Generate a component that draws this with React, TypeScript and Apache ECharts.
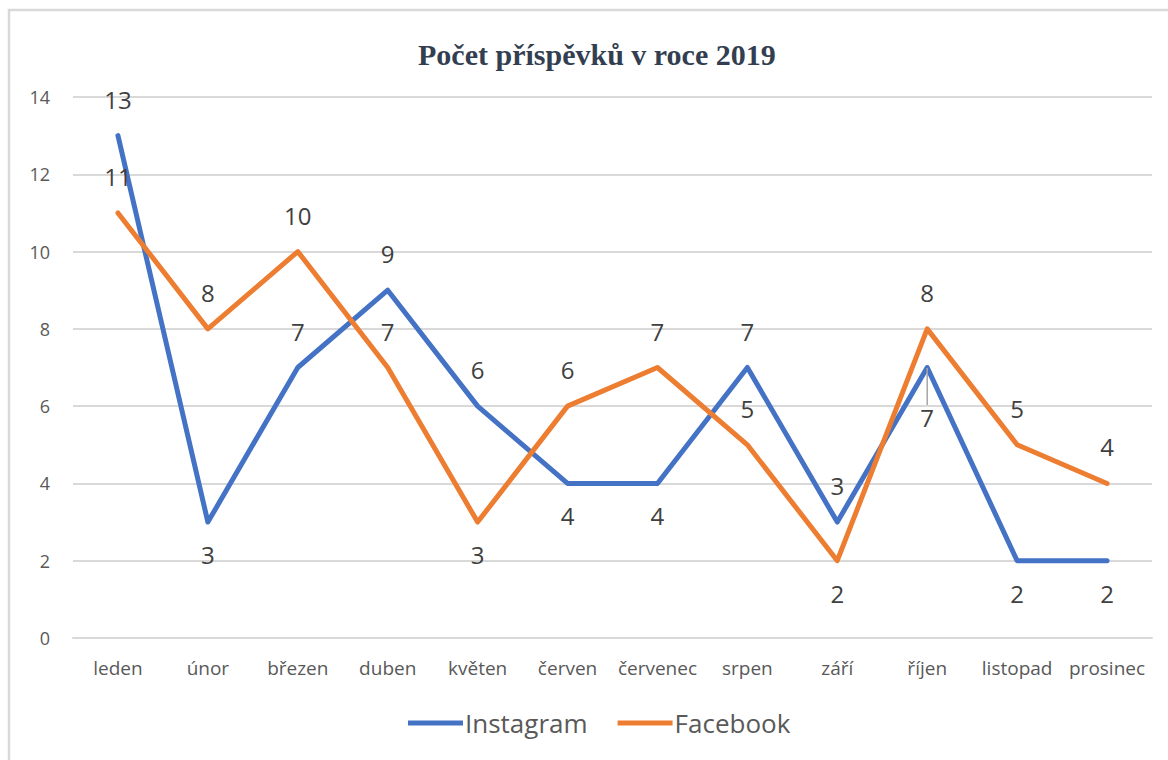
import React, { useEffect, useRef } from "react";
import * as echarts from "echarts";

const categories = ["leden", "únor", "březen", "duben", "květen", "červen", "červenec", "srpen", "září", "říjen", "listopad", "prosinec"];
const instagram = [13, 3, 7, 9, 6, 4, 4, 7, 3, 7, 2, 2];
const facebook = [11, 8, 10, 7, 3, 6, 7, 5, 2, 8, 5, 4];
const instagramLabelPos = ["top", "bottom", "top", "top", "top", "bottom", "bottom", "top", "top", "bottom", "bottom", "bottom"];
const facebookLabelPos = ["top", "top", "top", "top", "bottom", "top", "top", "top", "bottom", "top", "top", "top"];
const yTicks = { min: 0, max: 14, interval: 2 };

const labelColor = "#404040";
const axisTextColor = "#595959";
const gridColor = "#D9D9D9";

export default function App() {
  const ref = useRef<HTMLDivElement>(null);
  useEffect(() => {
    if (!ref.current) return;
    const chart = echarts.init(ref.current, undefined, { renderer: "svg" });
    const mk = (vals: number[], pos: string[], leaderIdx: number) =>
      vals.map((v, i) => {
        const item: any = { value: v, label: { position: pos[i], distance: pos[i] === "top" ? 24 : 20 } };
        if (i === leaderIdx) {
          item.labelLine = { show: true, lineStyle: { color: "#A6A6A6", width: 1.5 } };
        }
        return item;
      });
    chart.setOption({
      animation: false,
      backgroundColor: "#ffffff",
      title: {
        text: "Počet příspěvků v roce 2019",
        left: 413,
        top: 34,
        textStyle: {
          fontFamily: "Liberation Serif",
          fontWeight: "bold",
          fontSize: 30,
          color: "#333F50",
        },
      },
      graphic: [
        {
          type: "rect",
          shape: { x: 9, y: 10, width: 1200, height: 800 },
          style: { fill: "none", stroke: gridColor, lineWidth: 2.5 },
          silent: true,
          z: -1,
        },
      ],
      grid: { left: 73, right: 16, top: 97, bottom: 122, containLabel: false },
      legend: {
        bottom: 19,
        left: 403,
        icon: "rect",
        itemWidth: 55,
        itemHeight: 5,
        itemGap: 30,
        textStyle: { fontFamily: "Open Sans", fontSize: 26, color: axisTextColor, padding: [0, 0, 0, -3] },
        data: ["Instagram", "Facebook"],
      },
      xAxis: {
        type: "category",
        data: categories,
        boundaryGap: true,
        axisLine: { show: true, lineStyle: { color: gridColor, width: 2 } },
        axisTick: { show: false },
        axisLabel: { color: axisTextColor, fontFamily: "Open Sans", fontSize: 19, margin: 20, interval: 0 },
      },
      yAxis: {
        type: "value",
        min: yTicks.min,
        max: yTicks.max,
        interval: yTicks.interval,
        axisLine: { show: false },
        axisTick: { show: false },
        splitLine: { lineStyle: { color: gridColor, width: 2 } },
        axisLabel: { color: axisTextColor, fontFamily: "Open Sans", fontSize: 18, margin: 23 },
      },
      series: [
        {
          name: "Instagram",
          type: "line",
          data: mk(instagram, instagramLabelPos, 9),
          symbol: "circle",
          symbolSize: 1,
          showSymbol: true,
          itemStyle: { color: "#4472C4" },
          lineStyle: { color: "#4472C4", width: 5, cap: "round", join: "round" },
          label: { show: true, fontFamily: "Open Sans", fontSize: 24, color: labelColor },
          labelLayout: (p: any) => (p.dataIndex === 9 ? { dy: 17 } : {}),
          z: 2,
        },
        {
          name: "Facebook",
          type: "line",
          data: mk(facebook, facebookLabelPos, -1),
          symbol: "circle",
          symbolSize: 1,
          showSymbol: true,
          itemStyle: { color: "#ED7D31" },
          lineStyle: { color: "#ED7D31", width: 5, cap: "round", join: "round" },
          label: { show: true, fontFamily: "Open Sans", fontSize: 24, color: labelColor },
          z: 3,
        },
      ],
    });
    return () => chart.dispose();
  }, []);
  return <div ref={ref} style={{ position: "absolute", left: 0, top: 0, width: 1168, height: 760 }} />;
}
